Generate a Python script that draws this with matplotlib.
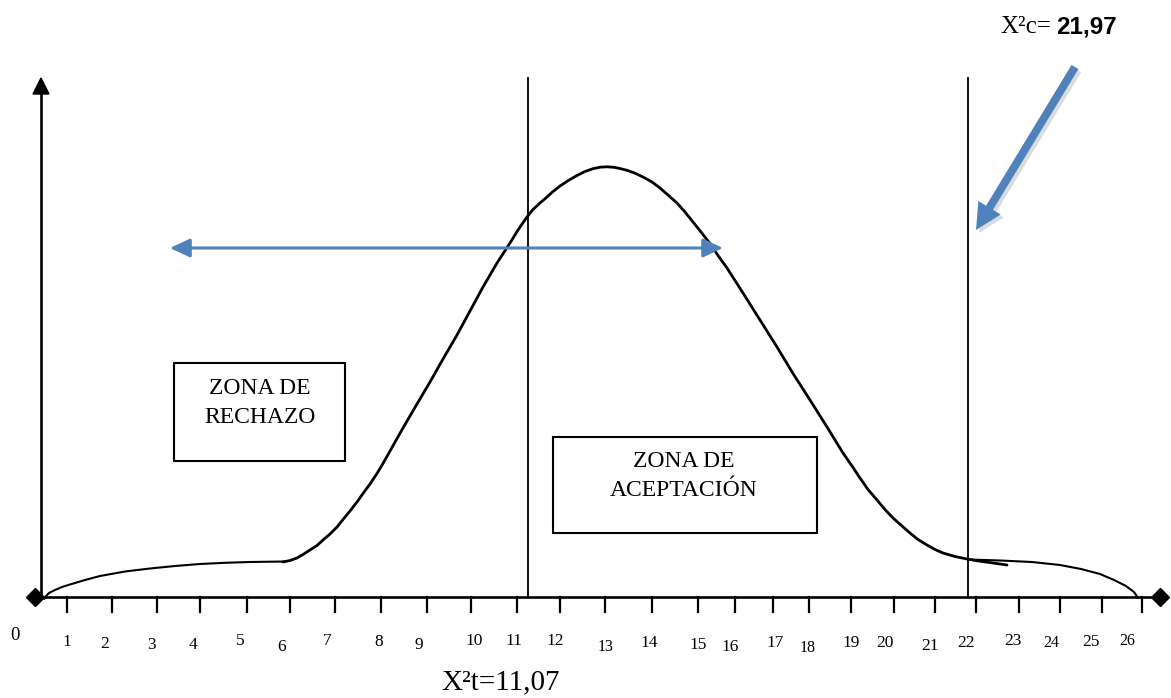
import matplotlib
matplotlib.use("Agg")
import matplotlib.pyplot as plt
from matplotlib.patches import FancyArrow, Rectangle

# diagram drawn in picture units (x to the right, y downwards)
W, H = 1171, 698

axis_y = 597
axis_left, axis_right = 35, 1160
yaxis_x, yaxis_top = 41, 78

tick_x = [67, 112, 157, 200, 247, 290, 335, 381, 427, 471, 517, 560, 605,
          652, 698, 735, 773, 809, 851, 894, 935, 976, 1019, 1060, 1102, 1142]
tick_labels = ["1", "2", "3", "4", "5", "6", "7", "8", "9", "10", "11", "12", "13",
               "14", "15", "16", "17", "18", "19", "20", "21", "22", "23", "24", "25", "26"]
label_x = [67, 105, 151, 193, 240, 282, 327, 379, 419, 474, 514, 555, 606,
           649, 698, 730, 775, 808, 851, 885, 930, 966, 1013, 1051, 1091, 1127]
label_y = [642, 644, 645, 645, 641, 647, 641, 642, 645, 641, 641, 641, 647,
           643, 645, 647, 643, 648, 643, 643, 646, 643, 641, 643, 642, 641]

# curve pieces
left_x = [44, 46, 49, 55, 62, 70, 85, 100, 125, 150, 175, 200, 225, 250, 285]
left_y = [599, 596, 593, 590, 587, 584.5, 580, 576, 571.5, 568.5, 566, 564, 562.8, 562, 561.5]

bell_x = [283, 290, 297, 303, 310, 317, 323, 330, 337, 343, 350, 357, 363, 370,
          377, 383, 390, 403, 417, 430, 443, 457, 470, 483, 497, 510, 518, 527,
          533, 540, 547, 553, 560, 570, 577, 585, 593, 600, 607, 614, 620, 627,
          635, 643, 652, 660, 668, 677, 685, 693, 701, 710, 718, 727, 735, 743,
          760, 777, 793, 810, 827, 843, 852, 860, 868, 877, 885, 893, 902, 910,
          918, 927, 935, 943, 955, 968, 980, 993, 1007]
bell_y = [562, 560.5, 558, 554.5, 550, 545.5, 540, 534, 527, 519.5, 511, 502, 493.5, 484,
          473.5, 463.5, 451, 428, 404, 382, 359, 335, 311, 287, 263, 243, 230, 217,
          209.5, 203, 197, 191.5, 186, 179.5, 175.5, 171.5, 168.7, 167.2, 166.8, 167.3, 168.5, 170.3,
          173.2, 177, 182, 188, 195, 203, 212, 222, 232, 243.5, 255.5, 268, 280.5, 293,
          320, 347, 373.5, 400, 427, 453, 466, 478, 489.5, 500, 509.5, 518, 526, 533,
          539.5, 545, 549.5, 553, 556.5, 559.2, 561.2, 563, 565]

right_x = [968, 1000, 1032, 1060, 1081, 1100, 1114, 1126, 1134, 1138]
right_y = [559.5, 560.5, 562, 565, 569, 574, 580, 586, 592, 598]

crit_t = 528    # X2t = 11,07
crit_c = 968    # X2c = 21,97

blue = "#4F81BD"

fig = plt.figure(figsize=(W / 100, H / 100), dpi=100)
ax = fig.add_axes([0, 0, 1, 1])
ax.set_xlim(0, W)
ax.set_ylim(H, 0)
ax.axis("off")

serif = "Liberation Serif"

# axes
ax.plot([axis_left, axis_right], [axis_y, axis_y], color="k", lw=1.9)
ax.plot([axis_left, axis_right], [axis_y, axis_y], "D", color="k", ms=9)
ax.plot([yaxis_x, yaxis_x], [axis_y, yaxis_top + 14], color="k", lw=1.9)
ax.add_patch(FancyArrow(yaxis_x, yaxis_top + 16, 0, -16, width=0, head_width=16,
                        head_length=16, length_includes_head=True, color="k"))
for x in tick_x:
    ax.plot([x, x], [axis_y, axis_y + 15], color="k", lw=1.6)
small = {"13", "18", "24", "26"}
for x, y, t in zip(label_x, label_y, tick_labels):
    ax.text(x, y, t, ha="center", va="center", family=serif,
            fontsize=11.5 if t in small else 12.5)
ax.text(15, 636, "0", ha="center", va="center", family=serif, fontsize=13.5)

# critical lines
ax.plot([crit_t, crit_t], [yaxis_top, axis_y], color="k", lw=1.3)
ax.plot([crit_c, crit_c], [yaxis_top, axis_y], color="k", lw=1.3)

# curve
ax.plot(left_x, left_y, color="k", lw=1.5, solid_capstyle="round")
ax.plot(bell_x, bell_y, color="k", lw=2.0, solid_capstyle="round", solid_joinstyle="round")
ax.plot(right_x, right_y, color="k", lw=1.5, solid_capstyle="round")

# boxes
ax.add_patch(Rectangle((174, 363), 171, 98, fill=False, lw=1.5, ec="k"))
ax.text(260, 403, "ZONA DE\nRECHAZO", ha="center", va="center", family=serif,
        fontsize=17, linespacing=1.5)
ax.add_patch(Rectangle((553, 437), 264, 96, fill=False, lw=1.5, ec="k"))
ax.text(684, 476, "ZONA DE\nACEPTACIÓN", ha="center", va="center", family=serif,
        fontsize=17, linespacing=1.45)

# blue double arrow
ax.annotate("", xy=(170, 248), xytext=(723, 248),
            arrowprops=dict(arrowstyle="<|-|>,head_length=0.6,head_width=0.28",
                            color=blue, lw=2.2, shrinkA=0, shrinkB=0, mutation_scale=20))

# thick pointer arrow with shadow
ax.add_patch(FancyArrow(1078, 70, -99, 163, width=8, head_width=26, head_length=26,
                        length_includes_head=True, color="#999999", alpha=0.35, lw=0))
ax.add_patch(FancyArrow(1075, 67, -99, 163, width=8, head_width=26, head_length=26,
                        length_includes_head=True, color=blue, lw=0))

# labels
ax.text(501, 682, "X²t=11,07", ha="center", va="center", family=serif, fontsize=21)
ax.text(1051, 27, "X²c=", ha="right", va="center", family=serif, fontsize=18)
ax.text(1056, 27, "21,97", ha="left", va="center", family="Liberation Sans",
        fontweight="bold", fontsize=17.5)

fig.savefig("out.png", dpi=100)
